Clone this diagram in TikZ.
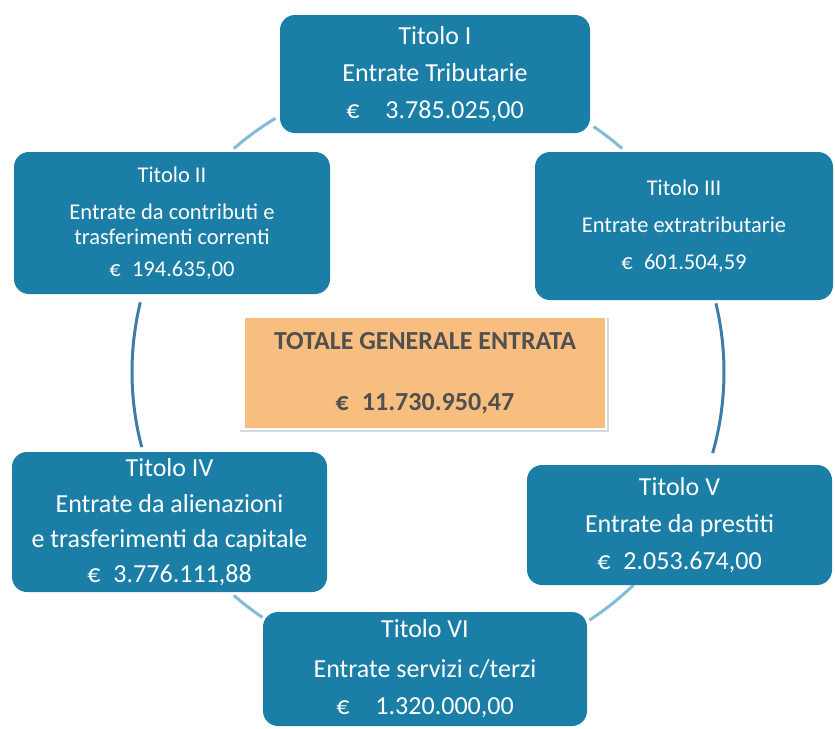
\documentclass[tikz,border=0pt]{standalone}
\usepackage{fontspec}
\setmainfont{Carlito}
\usetikzlibrary{calc}
\definecolor{titoloblue}{RGB}{26,126,166}
\definecolor{ringdark}{RGB}{62,125,168}
\definecolor{ringlight}{RGB}{130,188,216}
\definecolor{totorange}{RGB}{248,190,128}
\definecolor{totgray}{RGB}{80,80,80}

\begin{document}
\begin{tikzpicture}[x=1pt, y=-1pt,
    titolo/.style={rectangle, rounded corners=15pt, fill=titoloblue, text=white,
      align=center, inner sep=0pt, font=\fontsize{26}{37}\selectfont},
    titolosmall/.style={titolo, font=\fontsize{22.5}{37}\selectfont},
    totale/.style={rectangle, fill=totorange, text=totgray, align=center,
      inner sep=0pt, font=\bfseries\fontsize{26}{30}\selectfont},
    ring/.style={line width=3pt},
  ]
  \useasboundingbox (0,0) rectangle (835,728);

  % Centre of the ring
  \coordinate (hub) at (428,372);

  % Ring
  \draw[ring, ringdark] ([shift={(165.3:296)}]hub) arc[start angle=165.3, end angle=193.6, radius=296]; % left
  \draw[ring, ringdark] ([shift={(-13.4:296)}]hub) arc[start angle=-13.4, end angle=15.9, radius=296]; % right
  \draw[ring, ringlight] ([shift={(-131:296)}]hub) arc[start angle=-131, end angle=-121, radius=296]; % top left
  \draw[ring, ringlight] ([shift={(-56:296)}]hub) arc[start angle=-56, end angle=-49, radius=296]; % top right
  \draw[ring, ringlight] ([shift={(124:296)}]hub) arc[start angle=124, end angle=131, radius=296]; % bottom left
  \draw[ring, ringlight] ([shift={(46:296)}]hub) arc[start angle=46, end angle=57, radius=296]; % bottom right

  % Nodes
  \node[totale, minimum width=360pt, minimum height=110pt] (tot) at (425,373)
    {TOTALE GENERALE ENTRATA\\[31pt]€\enspace 11.730.950,47}; % total
  \draw[gray!30, line width=1.5pt] ($(tot.north east)+(3,0)$) -- ($(tot.south east)+(3,3)$) -- ($(tot.south west)+(-5,3)$);

  \node[titolo, minimum width=310pt, minimum height=118pt] (tI) at (435,74)
    {Titolo I\\Entrate Tributarie\\€\enspace\enspace 3.785.025,00}; % tributarie
  \node[titolosmall, minimum width=316pt, minimum height=142pt] (tII) at (172,223)
    {Titolo II\\Entrate da contributi e\\[-12pt]trasferimenti correnti\\[-5pt]€\enspace 194.635,00}; % contributi
  \node[titolosmall, minimum width=298pt, minimum height=148pt] (tIII) at (684,226)
    {Titolo III\\Entrate extratributarie\\€\enspace 601.504,59}; % extratributarie
  \node[titolo, minimum width=315pt, minimum height=140pt] (tIV) at (169.5,522)
    {Titolo IV\\[-1pt]Entrate da alienazioni\\[-2pt]e trasferimenti da capitale\\[-2pt]€\enspace 3.776.111,88}; % alienazioni
  \node[titolo, minimum width=305pt, minimum height=120pt] (tV) at (679.5,525)
    {Titolo V\\Entrate da prestiti\\€\enspace 2.053.674,00}; % prestiti
  \node[titolo, minimum width=324pt, minimum height=114pt] (tVI) at (425,669)
    {Titolo VI\\[3pt]Entrate servizi c/terzi\\€\enspace\enspace 1.320.000,00}; % servizi c/terzi

\end{tikzpicture}
\end{document}
